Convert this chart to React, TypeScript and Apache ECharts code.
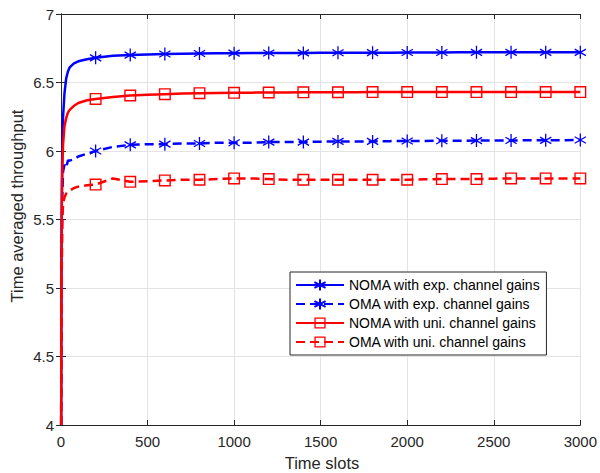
import React, { useEffect, useRef } from "react";
import * as echarts from "echarts";

const timeSlots = [
  1, 2, 3, 5, 8, 12, 20, 30, 40, 50, 75, 100, 150, 200,
  300, 400, 500, 600, 700, 800, 900, 1000, 1100, 1200, 1300, 1400, 1500, 1600,
  1700, 1800, 1900, 2000, 2100, 2200, 2300, 2400, 2500, 2600, 2700, 2800, 2900, 3000,
];

const nomaExp = [
  4.0, 4.8, 5.3, 5.75, 6.05, 6.25, 6.42, 6.53, 6.58, 6.61, 6.64, 6.655, 6.67, 6.68,
  6.695, 6.7, 6.705, 6.708, 6.71, 6.712, 6.713, 6.714, 6.715, 6.715, 6.716, 6.716, 6.717, 6.717,
  6.718, 6.718, 6.718, 6.719, 6.719, 6.719, 6.72, 6.72, 6.72, 6.72, 6.72, 6.72, 6.72, 6.72,
];

const omaExp = [
  4.0, 4.6, 5.0, 5.4, 5.7, 5.85, 5.9, 5.88, 5.93, 5.93, 5.94, 5.96, 5.98, 6.0,
  6.03, 6.045, 6.05, 6.05, 6.055, 6.055, 6.06, 6.06, 6.06, 6.065, 6.065, 6.065, 6.068, 6.07,
  6.07, 6.07, 6.072, 6.073, 6.073, 6.075, 6.075, 6.076, 6.077, 6.077, 6.078, 6.078, 6.079, 6.08,
];

const nomaUni = [
  4.0, 4.7, 5.2, 5.6, 5.9, 6.05, 6.18, 6.24, 6.28, 6.3, 6.33, 6.35, 6.37, 6.38,
  6.395, 6.405, 6.41, 6.415, 6.42, 6.422, 6.424, 6.425, 6.426, 6.427, 6.427, 6.428, 6.428, 6.429,
  6.429, 6.43, 6.43, 6.43, 6.43, 6.43, 6.43, 6.43, 6.43, 6.43, 6.43, 6.43, 6.43, 6.43,
];

const omaUni = [
  4.0, 4.5, 4.9, 5.2, 5.5, 5.62, 5.66, 5.69, 5.7, 5.71, 5.73, 5.74, 5.75, 5.755,
  5.8, 5.775, 5.78, 5.785, 5.79, 5.79, 5.795, 5.8, 5.8, 5.795, 5.79, 5.79, 5.79, 5.79,
  5.79, 5.79, 5.79, 5.79, 5.793, 5.795, 5.795, 5.795, 5.798, 5.8, 5.8, 5.8, 5.8, 5.8,
];

const seriesNames = [
  "NOMA with exp. channel gains",
  "OMA with exp. channel gains",
  "NOMA with uni. channel gains",
  "OMA with uni. channel gains",
];

const xAxisTitle = "Time slots";
const yAxisTitle = "Time averaged throughput";

const xTicks = { min: 0, max: 3000, interval: 500 };
const yTicks = { min: 4, max: 7, interval: 0.5 };

const STAR = "path://M0,-10L0,10M-8.66,-5L8.66,5M-8.66,5L8.66,-5";
const SQUARE = "path://M0,0L12,0L12,12L0,12Z M1.4,1.4L1.4,10.6L10.6,10.6L10.6,1.4Z";

const FONT = "'Liberation Sans', Arial, Helvetica, sans-serif";
const TXT = "#262626";

function buildData(vals: number[]) {
  return timeSlots.map((t, i) =>
    t % 200 === 0 ? { value: [t, vals[i]] } : { value: [t, vals[i]], symbol: "none" }
  );
}

function makeSeries(name: string, vals: number[], color: string, dashed: boolean, star: boolean) {
  return {
    name,
    type: "line",
    data: buildData(vals),
    showSymbol: true,
    showAllSymbol: true,
    symbol: star ? STAR : SQUARE,
    symbolSize: star ? 13 : 12,
    symbolKeepAspect: true,
    lineStyle: { color, width: 2.5, type: dashed ? [9, 5] : "solid" },
    itemStyle: star
      ? { color, borderColor: color, borderWidth: 1.3 }
      : { color, borderWidth: 0 },
    emphasis: { disabled: true },
    z: 3,
  };
}

export default function App() {
  const ref = useRef<HTMLDivElement>(null);
  useEffect(() => {
    if (!ref.current) return;
    const chart = echarts.init(ref.current, undefined, { renderer: "svg" });
    const axisCommon = {
      axisLine: { show: true, lineStyle: { color: TXT, width: 1 } },
      axisTick: { show: true, inside: true, length: 5, lineStyle: { color: TXT } },
    };
    chart.setOption({
      animation: false,
      backgroundColor: "#ffffff",
      textStyle: { fontFamily: FONT },
      grid: { left: 61, right: 17, top: 14, bottom: 48, show: false },
      legend: {
        orient: "vertical",
        left: 290,
        top: 272,
        itemWidth: 48,
        itemHeight: 14,
        itemGap: 5,
        padding: [6, 6, 6, 5],
        borderColor: TXT,
        borderWidth: 1,
        borderRadius: 0,
        backgroundColor: "#ffffff",
        textStyle: { fontFamily: FONT, fontSize: 14, lineHeight: 14, color: "#000000" },
        data: seriesNames,
      },
      graphic: [
        {
          type: "text",
          x: 17,
          y: 206,
          rotation: Math.PI / 2,
          style: {
            text: yAxisTitle,
            x: 0,
            y: 0,
            align: "center",
            verticalAlign: "middle",
            font: `16.5px ${FONT}`,
            fill: TXT,
          },
        },
        {
          type: "text",
          x: 322,
          y: 463,
          style: {
            text: xAxisTitle,
            x: 0,
            y: 0,
            align: "center",
            verticalAlign: "middle",
            font: `16.5px ${FONT}`,
            fill: TXT,
          },
        },
      ],
      xAxis: [
        {
          type: "value",
          ...xTicks,
          axisLabel: {
            fontFamily: FONT,
            fontSize: 15,
            color: TXT,
            margin: 9,
            formatter: (v: number) => String(v),
          },
          splitLine: { show: true, lineStyle: { color: "#e3e3e3", width: 1 } },
          ...axisCommon,
        },
        {
          type: "value",
          position: "top",
          ...xTicks,
          axisLabel: { show: false },
          splitLine: { show: false },
          ...axisCommon,
        },
      ],
      yAxis: [
        {
          type: "value",
          ...yTicks,
          axisLabel: {
            fontFamily: FONT,
            fontSize: 15,
            color: TXT,
            margin: 7,
            formatter: (v: number) => String(v),
          },
          splitLine: { show: true, lineStyle: { color: "#e3e3e3", width: 1 } },
          ...axisCommon,
        },
        {
          type: "value",
          position: "right",
          ...yTicks,
          axisLabel: { show: false },
          splitLine: { show: false },
          ...axisCommon,
        },
      ],
      series: [
        makeSeries(seriesNames[0], nomaExp, "#0000ff", false, true),
        makeSeries(seriesNames[1], omaExp, "#0000ff", true, true),
        makeSeries(seriesNames[2], nomaUni, "#ff0000", false, false),
        makeSeries(seriesNames[3], omaUni, "#ff0000", true, false),
      ],
    });
    return () => chart.dispose();
  }, []);
  return (
    <div
      ref={ref}
      style={{ position: "fixed", left: 0, top: 0, width: 600, height: 473 }}
    />
  );
}
